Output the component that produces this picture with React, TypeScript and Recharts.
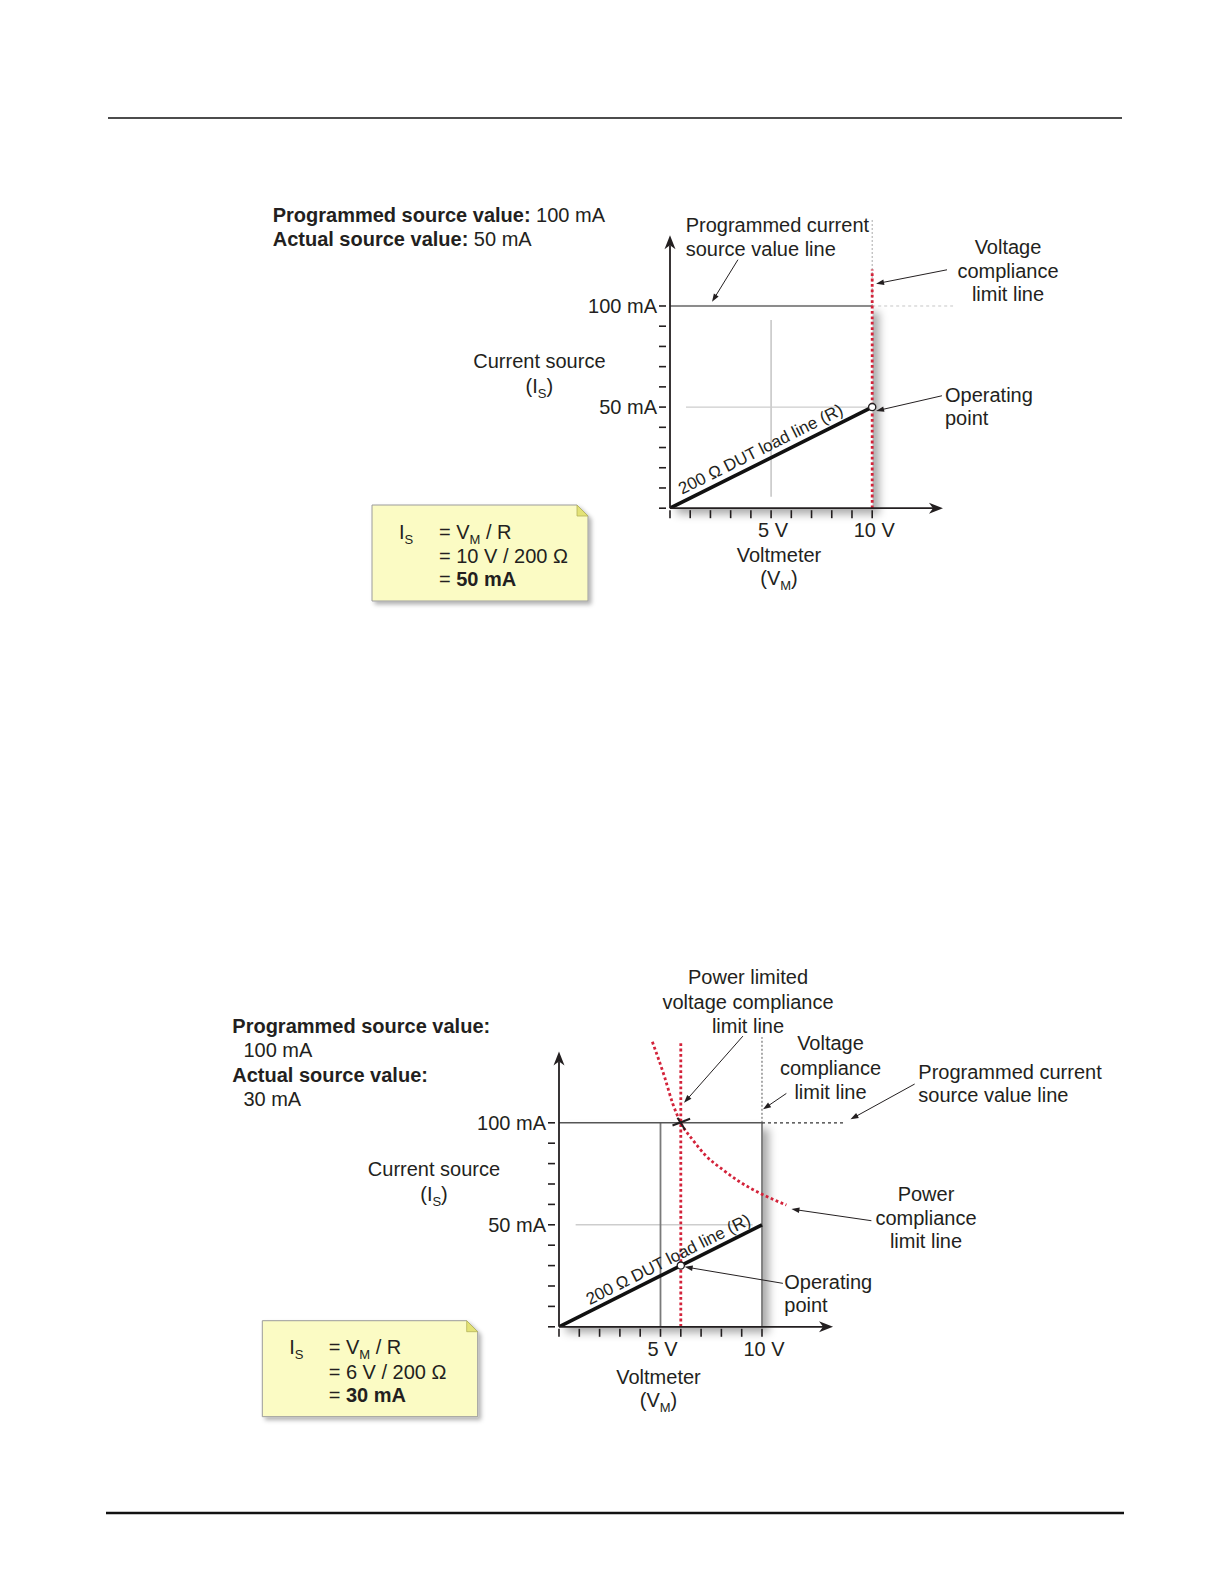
import React from 'react';
import { ComposedChart, Line, XAxis, YAxis, ReferenceLine, ReferenceDot, ReferenceArea } from 'recharts';

// ---------- data ----------
const voltTicks = [0, 1, 2, 3, 4, 5, 6, 7, 8, 9, 10];
const currentTicks = [0, 10, 20, 30, 40, 50, 60, 70, 80, 90, 100];
const voltTickLabels: Record<number, string> = { 5: '5 V', 10: '10 V' };
const currentTickLabels: Record<number, string> = { 50: '50 mA', 100: '100 mA' };

const programmedCurrent = 100; // mA
const voltageLimit = 10; // V
const powerLimitedVoltage = 6; // V

const loadLineTop = [{ v: 0, i: 0 }, { v: 10, i: 50 }];
const loadLineBottom = [{ v: 0, i: 0 }, { v: 10, i: 50 }];
const operatingTop = { v: 10, i: 50 };
const operatingBottom = { v: 6, i: 30 };

const powerCurve = [
  { v: 4.6, i: 139.7 },
  { v: 5.2, i: 122.5 },
  { v: 5.6, i: 109.5 },
  { v: 6.0, i: 100.0 },
  { v: 6.6, i: 91.5 },
  { v: 7.2, i: 84.2 },
  { v: 8.1, i: 76.8 },
  { v: 8.9, i: 71.1 },
  { v: 10.0, i: 65.0 },
  { v: 11.2, i: 59.7 },
];

// ---------- style / layout ----------
const FONT = '"Liberation Sans", Arial, Helvetica, sans-serif';
const INK = '#231f20';
const RED = '#d3233a';
const RED_DASH = '2.8 2.6';
const X_MAX = 14;
const Y_MAX = 145;
const X_ARROW = 13.5;
const Y_ARROW = 135;
const Y_AXIS_W = 110;
const X_AXIS_H = 60;
const M_TOP = 10;
const M_RIGHT = 10;

interface Geo { ox: number; oy: number; sx: number; sy: number }
const geoTop: Geo = { ox: 670, oy: 508.3, sx: 20.22, sy: 2.022 };
const geoBottom: Geo = { ox: 559.3, oy: 1326.7, sx: 20.3, sy: 2.04 };

function frame(g: Geo) {
  const pw = X_MAX * g.sx;
  const ph = Y_MAX * g.sy;
  return { left: g.ox - Y_AXIS_W, top: g.oy - ph - M_TOP, width: Y_AXIS_W + pw + M_RIGHT, height: M_TOP + ph + X_AXIS_H };
}

const XTick = (p: any) => {
  const { x, y, payload } = p;
  const lbl = voltTickLabels[payload.value];
  return (
    <g>
      <line x1={x} x2={x} y1={y + 2} y2={y + 10} stroke={INK} strokeWidth={1.6} />
      {lbl ? (
        <text x={x + 2} y={y + 22} dy="0.35em" textAnchor="middle" fontFamily={FONT} fontSize={20} fill={INK}>{lbl}</text>
      ) : null}
    </g>
  );
};

const YTick = (p: any) => {
  const { x, y, payload } = p;
  const lbl = currentTickLabels[payload.value];
  return (
    <g>
      <line x1={x - 11} x2={x - 4} y1={y} y2={y} stroke={INK} strokeWidth={1.6} />
      {lbl ? (
        <text x={x - 13} y={y} dy="0.35em" textAnchor="end" fontFamily={FONT} fontSize={20} fill={INK}>{lbl}</text>
      ) : null}
    </g>
  );
};

const axisArrowShape = (props: any) => {
  const { x1, y1, x2, y2 } = props;
  const a = Math.atan2(y2 - y1, x2 - x1);
  const dx = Math.cos(a), dy = Math.sin(a);
  const px = -dy, py = dx;
  const L = 14, W = 5.5, N = 10;
  const bx = x2 - L * dx, by = y2 - L * dy;
  const nx = x2 - N * dx, ny = y2 - N * dy;
  return (
    <g>
      <line x1={x1} y1={y1} x2={nx} y2={ny} stroke={INK} strokeWidth={1.8} />
      <path d={`M${x2},${y2}L${bx + W * px},${by + W * py}L${nx},${ny}L${bx - W * px},${by - W * py}Z`} fill={INK} />
    </g>
  );
};

const leaderShape = (props: any) => {
  const { x1, y1, x2, y2 } = props;
  const a = Math.atan2(y2 - y1, x2 - x1);
  const dx = Math.cos(a), dy = Math.sin(a);
  const px = -dy, py = dx;
  const L = 8, W = 2.8;
  const bx = x2 - L * dx, by = y2 - L * dy;
  return (
    <g>
      <line x1={x1} y1={y1} x2={bx + 1 * dx} y2={by + 1 * dy} stroke={INK} strokeWidth={1} />
      <path d={`M${x2},${y2}L${bx + W * px},${by + W * py}L${bx - W * px},${by - W * py}Z`} fill={INK} />
    </g>
  );
};

const shadowShape = (id: string) => (props: any) => {
  const { x, y, width, height } = props;
  return (
    <g>
      <defs>
        <filter id={id} x="-20%" y="-20%" width="150%" height="150%">
          <feDropShadow dx={7} dy={6} stdDeviation={4.5} floodColor="#000" floodOpacity={0.33} />
        </filter>
      </defs>
      <rect x={x} y={y} width={width} height={height} fill="#fff" filter={`url(#${id})`} />
    </g>
  );
};

const opDotShape = (props: any) => (
  <circle cx={props.cx} cy={props.cy} r={3.6} fill="#fff" stroke={INK} strokeWidth={1.3} />
);

const crossShape = (props: any) => {
  const { cx, cy } = props;
  return (
    <g stroke={INK} strokeWidth={2}>
      <line x1={cx - 8.3} y1={cy + 2.7} x2={cx + 9.3} y2={cy - 4} />
      <line x1={cx - 3.3} y1={cy - 5} x2={cx + 4.3} y2={cy + 7} />
    </g>
  );
};

const loadLabelShape = (g: Geo) => (props: any) => {
  const { cx, cy } = props;
  const ang = -Math.atan2(50 * g.sy, 10 * g.sx) * 180 / Math.PI;
  return (
    <text x={cx} y={cy} transform={`rotate(${ang} ${cx} ${cy})`} fontFamily={FONT} fontSize={17} fill={INK}>
      200 Ω DUT load line (R)
    </text>
  );
};

type Seg = [[number, number], [number, number]];
const leadersTop: Seg[] = [
  [[3.36, 122.9], [2.08, 102.1]],
  [[13.7, 117.9], [10.19, 111.0]],
  [[13.45, 55.6], [10.19, 48.1]],
];
const leadersBottom: Seg[] = [
  [[9.06, 142.5], [6.16, 109.8]],
  [[11.2, 114.4], [10.05, 106.6]],
  [[17.52, 119.0], [14.36, 101.7]],
  [[15.39, 52.0], [11.45, 57.7]],
  [[11.03, 21.3], [6.19, 29.4]],
];

function seg(key: string, a: [number, number], b: [number, number], style: any) {
  return (
    <ReferenceLine key={key} segment={[{ x: a[0], y: a[1] }, { x: b[0], y: b[1] }]} ifOverflow="visible" {...style} />
  );
}

function axes(g: Geo) {
  return [
    <XAxis key="xa" type="number" dataKey="v" domain={[0, X_MAX]} ticks={voltTicks} interval={0} allowDataOverflow
      axisLine={false} tickLine={false} tickSize={0} tickMargin={0} tick={XTick} height={X_AXIS_H} />,
    <YAxis key="ya" type="number" domain={[0, Y_MAX]} ticks={currentTicks} interval={0} allowDataOverflow
      axisLine={false} tickLine={false} tickSize={0} tickMargin={0} tick={YTick} width={Y_AXIS_W} />,
  ];
}

function TopChart() {
  const g = geoTop;
  const f = frame(g);
  return (
    <div style={{ position: 'absolute', left: f.left, top: f.top }}>
      <ComposedChart width={f.width} height={f.height} margin={{ top: M_TOP, right: M_RIGHT, bottom: 0, left: 0 }}>
        {axes(g)}
        <ReferenceArea x1={0} x2={voltageLimit} y1={0} y2={programmedCurrent} ifOverflow="visible" shape={shadowShape('shTop')} />
        {seg('g1', [5, 5.6], [5, 93.1], { stroke: '#c4c4c4', strokeWidth: 1.5 })}
        {seg('g2', [0.79, 50], [voltageLimit, 50], { stroke: '#cdcdcd', strokeWidth: 1.2 })}
        {seg('pc', [0, programmedCurrent], [voltageLimit, programmedCurrent], { stroke: '#666', strokeWidth: 1.3 })}
        {seg('pcx', [voltageLimit, programmedCurrent], [X_MAX, programmedCurrent], { stroke: '#c6c6c6', strokeWidth: 1, strokeDasharray: '3 3' })}
        {seg('vcx', [voltageLimit, programmedCurrent], [voltageLimit, 143], { stroke: '#aaa', strokeWidth: 1, strokeDasharray: '2 2' })}
        {seg('vc', [voltageLimit, 0], [voltageLimit, 118], { stroke: RED, strokeWidth: 2.8, strokeDasharray: RED_DASH })}
        <Line data={loadLineTop} dataKey="i" stroke="#111" strokeWidth={3.6} dot={false} activeDot={false} isAnimationActive={false} />
        {seg('ax', [0, 0], [X_ARROW, 0], { shape: axisArrowShape })}
        {seg('ay', [0, 0], [0, Y_ARROW], { shape: axisArrowShape })}
        <ReferenceDot x={0.6} y={6.6} r={1} ifOverflow="visible" shape={loadLabelShape(g)} />
        <ReferenceDot x={operatingTop.v} y={operatingTop.i} r={4} ifOverflow="visible" shape={opDotShape} />
        {leadersTop.map((s, k) => seg('lt' + k, s[0], s[1], { shape: leaderShape }))}
      </ComposedChart>
    </div>
  );
}

function BottomChart() {
  const g = geoBottom;
  const f = frame(g);
  return (
    <div style={{ position: 'absolute', left: f.left, top: f.top }}>
      <ComposedChart width={f.width} height={f.height} margin={{ top: M_TOP, right: M_RIGHT, bottom: 0, left: 0 }}>
        {axes(g)}
        <ReferenceArea x1={0} x2={voltageLimit} y1={0} y2={programmedCurrent} ifOverflow="visible" shape={shadowShape('shBot')} />
        {seg('g2', [0.82, 50], [9.54, 50], { stroke: '#cdcdcd', strokeWidth: 1.4 })}
        {seg('v5', [5, 0], [5, programmedCurrent], { stroke: '#7a7a7a', strokeWidth: 1.8 })}
        {seg('v10', [voltageLimit, 0], [voltageLimit, programmedCurrent], { stroke: '#7a7a7a', strokeWidth: 1.8 })}
        {seg('pc', [0, programmedCurrent], [voltageLimit, programmedCurrent], { stroke: '#555', strokeWidth: 1.4 })}
        {seg('pcx', [voltageLimit, programmedCurrent], [X_MAX, programmedCurrent], { stroke: '#333', strokeWidth: 1.2, strokeDasharray: '3 3' })}
        {seg('vcx', [voltageLimit, programmedCurrent], [voltageLimit, 142], { stroke: '#555', strokeWidth: 1, strokeDasharray: '2 2' })}
        <Line data={loadLineBottom} dataKey="i" stroke="#111" strokeWidth={3.6} dot={false} activeDot={false} isAnimationActive={false} />
        {seg('pl', [powerLimitedVoltage, 0], [powerLimitedVoltage, 139], { stroke: RED, strokeWidth: 2.8, strokeDasharray: RED_DASH })}
        <Line data={powerCurve} dataKey="i" type="monotone" stroke={RED} strokeWidth={2.8} strokeDasharray={RED_DASH} dot={false} activeDot={false} isAnimationActive={false} />
        {seg('ax', [0, 0], [X_ARROW, 0], { shape: axisArrowShape })}
        {seg('ay', [0, 0], [0, Y_ARROW], { shape: axisArrowShape })}
        <ReferenceDot x={1.51} y={10.6} r={1} ifOverflow="visible" shape={loadLabelShape(g)} />
        <ReferenceDot x={powerLimitedVoltage} y={programmedCurrent} r={4} ifOverflow="visible" shape={crossShape} />
        <ReferenceDot x={operatingBottom.v} y={operatingBottom.i} r={4} ifOverflow="visible" shape={opDotShape} />
        {leadersBottom.map((s, k) => seg('lb' + k, s[0], s[1], { shape: leaderShape }))}
      </ComposedChart>
    </div>
  );
}

// ---------- overlay text ----------
const T = ({ x, y, a = 'start', w, children }: any) => (
  <text x={x} y={y} dy="0.35em" textAnchor={a} fontFamily={FONT} fontSize={20} fill={INK} fontWeight={w}>{children}</text>
);
const Sub = ({ c, after }: any) => (
  <>
    <tspan fontSize={13} dy={5}>{c}</tspan>
    <tspan dy={-5}>{after}</tspan>
  </>
);

const Note = ({ x, y, w, h, lines, id }: any) => {
  const s = 11;
  const r = x + w, b = y + h;
  return (
    <g>
      <defs>
        <filter id={id} x="-10%" y="-10%" width="130%" height="140%">
          <feDropShadow dx={3} dy={3} stdDeviation={2} floodColor="#000" floodOpacity={0.3} />
        </filter>
      </defs>
      <polygon points={`${x},${y} ${r - s},${y} ${r},${y + s} ${r},${b} ${x},${b}`} fill="#fbfbc4" stroke="#9c9c9c" strokeWidth={1} filter={`url(#${id})`} />
      <polygon points={`${r - s},${y} ${r},${y + s} ${r - s},${y + s}`} fill="#e3e276" stroke="#b4b25c" strokeWidth={0.8} />
      {lines}
    </g>
  );
};

function Overlay() {
  return (
    <svg width={1224} height={1584} style={{ position: 'absolute', left: 0, top: 0, pointerEvents: 'none' }}>
      <line x1={108} x2={1122} y1={118} y2={118} stroke="#111" strokeWidth={1.3} />
      <line x1={106} x2={1124} y1={1513} y2={1513} stroke="#111" strokeWidth={2.6} />

      {/* top figure */}
      <T x={272.7} y={215}><tspan fontWeight="bold">Programmed source value:</tspan> 100 mA</T>
      <T x={272.7} y={239.3}><tspan fontWeight="bold">Actual source value:</tspan> 50 mA</T>
      <T x={685.7} y={225}>Programmed current</T>
      <T x={685.7} y={249}>source value line</T>
      <T x={1008} y={246.7} a="middle">Voltage</T>
      <T x={1008} y={270.7} a="middle">compliance</T>
      <T x={1008} y={294} a="middle">limit line</T>
      <T x={945} y={395}>Operating</T>
      <T x={945} y={418.3}>point</T>
      <T x={539.4} y={360.5} a="middle">Current source</T>
      <T x={539.4} y={385.5} a="middle">(I<Sub c="S" after=")" /></T>
      <T x={779} y={555} a="middle">Voltmeter</T>
      <T x={779} y={578} a="middle">(V<Sub c="M" after=")" /></T>
      <Note id="n1" x={372} y={505} w={216} h={96} lines={
        <>
          <T x={399} y={531.7}>I<Sub c="S" after="" /></T>
          <T x={439} y={531.7}>= V<Sub c="M" after=" / R" /></T>
          <T x={439} y={556}>= 10 V / 200 Ω</T>
          <T x={439} y={579.3}>= <tspan fontWeight="bold">50 mA</tspan></T>
        </>
      } />

      {/* bottom figure */}
      <T x={232.3} y={1026} w="bold">Programmed source value:</T>
      <T x={243.4} y={1050}>100 mA</T>
      <T x={232.3} y={1074.5} w="bold">Actual source value:</T>
      <T x={243.4} y={1098.8}>30 mA</T>
      <T x={748} y={977} a="middle">Power limited</T>
      <T x={748} y={1002} a="middle">voltage compliance</T>
      <T x={748} y={1025.7} a="middle">limit line</T>
      <T x={830.5} y={1043} a="middle">Voltage</T>
      <T x={830.5} y={1068} a="middle">compliance</T>
      <T x={830.5} y={1091.7} a="middle">limit line</T>
      <T x={918.3} y={1071.7}>Programmed current</T>
      <T x={918.3} y={1095}>source value line</T>
      <T x={926} y={1194} a="middle">Power</T>
      <T x={926} y={1218} a="middle">compliance</T>
      <T x={926} y={1240.7} a="middle">limit line</T>
      <T x={784.3} y={1281.7}>Operating</T>
      <T x={784.3} y={1305}>point</T>
      <T x={434} y={1168.6} a="middle">Current source</T>
      <T x={434} y={1193.5} a="middle">(I<Sub c="S" after=")" /></T>
      <T x={658.5} y={1376.5} a="middle">Voltmeter</T>
      <T x={658.5} y={1400} a="middle">(V<Sub c="M" after=")" /></T>
      <Note id="n2" x={262.3} y={1320.7} w={215.4} h={96} lines={
        <>
          <T x={289.3} y={1347.2}>I<Sub c="S" after="" /></T>
          <T x={328.7} y={1347.2}>= V<Sub c="M" after=" / R" /></T>
          <T x={328.7} y={1371.5}>= 6 V / 200 Ω</T>
          <T x={328.7} y={1395.3}>= <tspan fontWeight="bold">30 mA</tspan></T>
        </>
      } />
    </svg>
  );
}

export default function App() {
  return (
    <div style={{ position: 'absolute', left: 0, top: 0, width: 1224, height: 1584, background: '#fff', overflow: 'hidden' }}>
      <style>{`.recharts-surface{overflow:visible}.recharts-wrapper{overflow:visible}`}</style>
      <TopChart />
      <BottomChart />
      <Overlay />
    </div>
  );
}
